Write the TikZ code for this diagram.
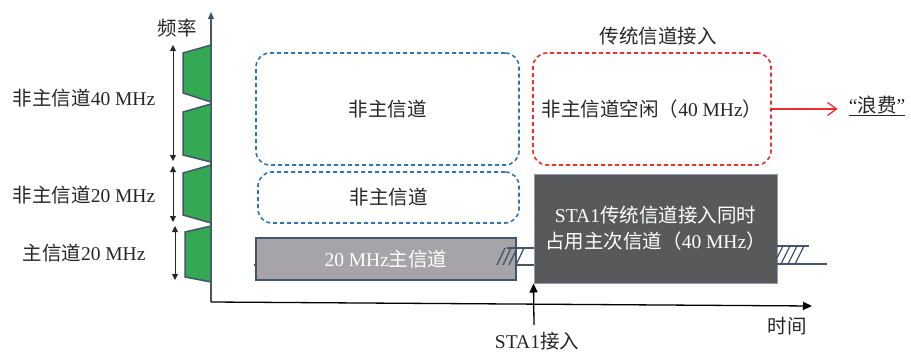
\documentclass[tikz,border=0pt]{standalone}
\usepackage{fontspec}
\setmainfont{Liberation Serif}
\newfontfamily\cjk{Noto Sans CJK SC}
\usetikzlibrary{arrows.meta}
\newcommand{\zhtext}[1]{{\cjk #1}}
\definecolor{chgreen}{RGB}{52,168,83}
\definecolor{edgecol}{RGB}{68,84,106}
\definecolor{dashblue}{RGB}{46,117,182}
\definecolor{dashred}{RGB}{235,45,45}
\definecolor{grayfill}{RGB}{166,164,168}
\definecolor{darkfill}{RGB}{88,89,91}
\definecolor{txtcol}{RGB}{38,38,38}
\tikzset{
  txt/.style={font=\fontsize{19.5}{26}\selectfont, text=txtcol, inner sep=0pt},
  dashbox/.style={dash pattern=on 4pt off 3pt, line width=1.6pt, rounded corners=14pt, font=\fontsize{19.5}{26}\selectfont, text=txtcol},
  bluebox/.style={dashbox, draw=dashblue},
  redbox/.style={dashbox, draw=dashred},
  graybox/.style={draw=edgecol, line width=1.3pt, fill=grayfill, text=white, font=\fontsize{19.5}{26}\selectfont},
  darkbox/.style={draw=edgecol!60, line width=1pt, fill=darkfill, text=white, font=\fontsize{19.5}{26}\selectfont, align=center},
  trap/.style={fill=chgreen, draw=edgecol, line width=1.5pt, line join=miter},
  chan/.style={draw=edgecol, line width=1.3pt},
  hatch/.style={draw=edgecol, line width=1.3pt},
  dbl/.style={draw=txtcol, line width=1pt, {Triangle[length=6pt,width=6pt]}-{Triangle[length=6pt,width=6pt]}},
}
\begin{document}
\begin{tikzpicture}[x=1pt,y=-1pt]
\useasboundingbox (0,0) rectangle (911,353);

% axes
\coordinate (O) at (211,302);
\coordinate (ytop) at (211,12);
\coordinate (xend) at (812,306);
\draw[edgecol, line width=1.3pt, -{Triangle[length=7pt,width=6pt]}] (O) -- (ytop);
\draw[black, line width=1.3pt, -{Triangle[length=9pt,width=8pt]}] (O) -- (xend);
\node[txt] (freq) at (177,28) {\zhtext{频率}};
\node[txt] (time) at (787,326) {\zhtext{时间}};

% trapezoids
\draw[trap] (183,53) -- (211,45) -- (211,102) -- (183,93) -- cycle;
\draw[trap] (183,112) -- (211,104) -- (211,162) -- (183,155) -- cycle;
\draw[trap] (183,173) -- (211,165) -- (211,223) -- (183,215) -- cycle;
\draw[trap] (185,232) -- (211,226) -- (211,282) -- (185,277) -- cycle;

% double arrows
\coordinate (a1t) at (173,45);  \coordinate (a1b) at (173,161);
\coordinate (a2t) at (173,166); \coordinate (a2b) at (173,222);
\coordinate (a3t) at (175,226); \coordinate (a3b) at (175,280);
\draw[dbl] (a1t) -- (a1b);
\draw[dbl] (a2t) -- (a2b);
\draw[dbl] (a3t) -- (a3b);

% left labels
\node[txt] (l40) at (84,98) {\zhtext{非主信道}40 MHz};
\node[txt] (l20) at (84,195) {\zhtext{非主信道}20 MHz};
\node[txt] (lp) at (84,253) {\zhtext{主信道}20 MHz};

% dashed boxes
\node[bluebox, minimum width=263pt, minimum height=112pt] (nb1) at (387.5,109) {\zhtext{非主信道}};
\node[bluebox, minimum width=261pt, minimum height=51pt] (nb2) at (388.5,197.5) {\zhtext{非主信道}};
\node[redbox, minimum width=238pt, minimum height=112pt] (idle) at (652,109) {\zhtext{非主信道空闲（}40 MHz\zhtext{）}};
\node[txt] (legacy) at (658,36) {\zhtext{传统信道接入}};

% waste
\node[txt] (waste) at (877,106) {\underline{“\zhtext{浪费}”}};
\draw[dashred, line width=1.3pt, -{Straight Barb[length=9pt,width=13pt]}, shorten >=11pt] (idle.east) -- (idle.east -| waste.west);

% channel line behind boxes
\draw[chan] (254,265) -- (534,265);

% gray and dark boxes
\node[graybox, minimum width=260pt, minimum height=42pt] (prim) at (386,259) {20 MHz\zhtext{主信道}};
\node[darkbox, minimum width=243pt, minimum height=109pt] (sta) at (655.5,228.5) {STA1\zhtext{传统信道接入同时}\\\zhtext{占用主次信道（}40 MHz\zhtext{）}};

% hatched gaps
\draw[chan] (507,248) -- (534,248);
\draw[hatch] (497,265) -- (505,248);
\draw[hatch] (503,265) -- (511,248);
\draw[hatch] (509,265) -- (517,248);
\draw[hatch] (516,265) -- (524,248);
\draw[chan] (777,246) -- (809,246);
\draw[chan] (777,264) -- (827,264);
\draw[hatch] (777,258) -- (783,246);
\draw[hatch] (781,264) -- (790,246);
\draw[hatch] (788,264) -- (797,246);
\draw[hatch] (795,264) -- (804,246);

% STA1 access arrow
\coordinate (sb) at (534,325);
\draw[black, line width=1.3pt, -{Triangle[length=9pt,width=8pt]}] (sb) -- (sta.south west);
\node[txt] (sta1) at (537,341) {STA1\zhtext{接入}};
\end{tikzpicture}
\end{document}
